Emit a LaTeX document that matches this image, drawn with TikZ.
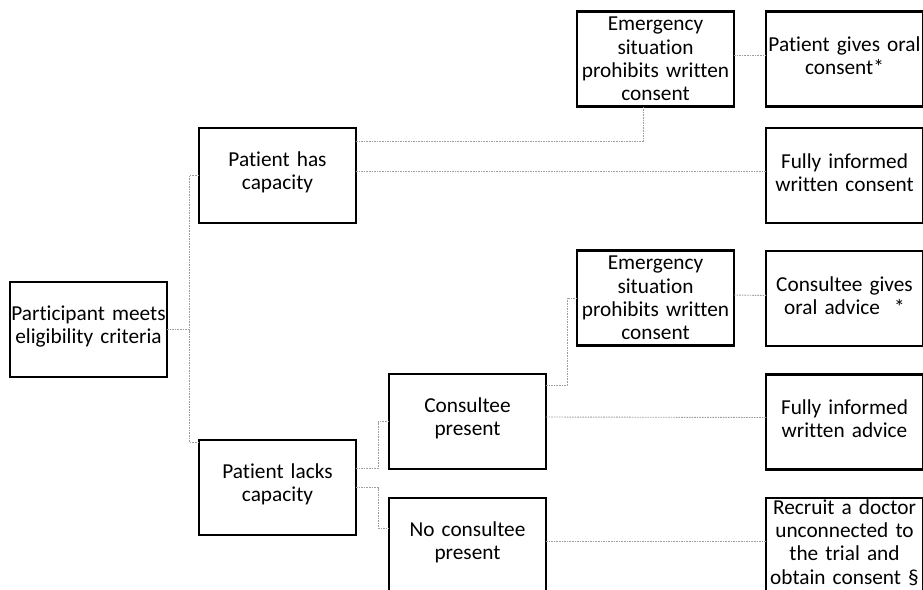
\documentclass[tikz,border=0pt]{standalone}
\usepackage{fontspec}
\setmainfont{Carlito}[Ligatures={NoCommon,NoContextual}]
\usetikzlibrary{calc}
\tikzset{
  stepbox/.style={draw, line width=2.6pt, minimum width=157pt, minimum height=95pt,
    text width=157pt, align=center, inner sep=0pt, outer sep=0pt,
    font=\fontsize{21.3}{23.3}\selectfont},
  lifted/.style={stepbox, execute at end node={\par\vspace*{6pt}}},
  link/.style={gray!75, line width=0.9pt, dash pattern=on 1.6pt off 1pt}
}

\begin{document}
\begin{tikzpicture}[x=1pt,y=-1pt]
        \useasboundingbox (0,0) rectangle (923,589);

        % first and second level
        \node[lifted] at (88.5,329.5) (part) {Participant meets\\eligibility criteria};
        \node[lifted] at (277.5,175.5) (cap) {Patient has\\capacity};
        \node[lifted] at (277.5,487.5) (lacks) {Patient lacks\\capacity};
        \node[lifted] at (467.5,421.5) (cons) {Consultee\\present};
        \node[lifted] at (467.5,545.5) (nocons) {No consultee\\present};

        % emergency boxes
        \node[stepbox] at (655.5,59) (emg1) {Emergency\\situation\\prohibits written\\consent};
        \node[stepbox] at (655.5,298) (emg2) {Emergency\\situation\\prohibits written\\consent};

        % outcomes
        \node[lifted] at (844.5,59) (poc) {Patient gives oral\\consent*\\[2pt]};
        \node[lifted] at (844.5,175.5) (fwc) {Fully informed\\written consent};
        \node[lifted] at (844.5,298.5) (cgoa) {Consultee gives\\oral advice\ \ *};
        \node[lifted] at (844.5,422) (fwa) {Fully informed\\written advice};
        \node[lifted] at (844.5,545.5) (recruit) {Recruit a doctor\\unconnected to\\the trial and\\obtain consent \S};

        \draw[link] (part.east) -- ++(22,0) |- (cap.west);
        \draw[link] (part.east) -- ++(22,0) |- ([yshift=-2pt]lacks.north west);

        \draw[link] ([yshift=34.5pt]cap.east) -| ([xshift=-12.5pt]emg1.south);
        \draw[link] ([yshift=4.5pt]cap.east) -- ([yshift=4.5pt]fwc.west);
        \draw[link] ([yshift=4pt]emg1.east) -- ([yshift=4pt]poc.west);

        \draw[link] ([yshift=19.5pt]lacks.east) -- ++(22,0) |- (cons.west);
        \draw[link] (lacks.east) -- ++(22,0) |- ([yshift=17.5pt]nocons.west);

        \draw[link] ([yshift=36.5pt]cons.east) -- ++(21,0) |- (emg2.west);
        \draw[link] ([yshift=3pt]emg2.east) -- ([yshift=3pt]cgoa.west);
        \draw[link] ([yshift=4.5pt]cons.east) -- ([yshift=4.5pt]fwa.west);
        \draw[link] ([yshift=4.5pt]nocons.east) -- ([yshift=4.5pt]recruit.west);

\end{tikzpicture}
\end{document}
